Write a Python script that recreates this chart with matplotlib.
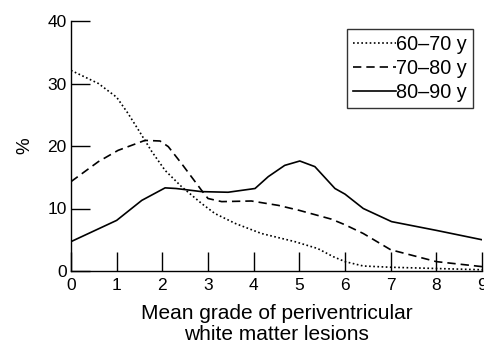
import matplotlib
matplotlib.use("Agg")
import matplotlib.pyplot as plt

plt.rcParams['font.family'] = ['Liberation Sans', 'DejaVu Sans']

# Values
x_6070 = [0, 0.6, 1.0, 1.25, 1.5, 1.77, 2.06, 2.42, 2.86, 3.15, 3.6, 4.17, 4.9, 5.4, 5.74, 6.0, 6.4, 7.0, 8.0, 9.0]
y_6070 = [32.1, 30.0, 27.8, 25.2, 22.3, 19.1, 16.1, 13.5, 10.8, 9.2, 7.6, 6.0, 4.7, 3.6, 2.3, 1.5, 0.8, 0.6, 0.4, 0.2]

x_7080 = [0, 0.6, 1.03, 1.62, 1.95, 2.13, 2.42, 2.86, 3.0, 3.3, 3.95, 4.54, 5.0, 5.7, 6.0, 6.4, 7.0, 8.0, 9.0]
y_7080 = [14.3, 17.5, 19.3, 20.9, 20.8, 19.9, 17.2, 12.9, 11.6, 11.1, 11.2, 10.5, 9.7, 8.3, 7.4, 6.0, 3.4, 1.5, 0.7]

x_8090 = [0, 1.0, 1.55, 2.06, 2.3, 2.86, 3.44, 4.03, 4.32, 4.68, 5.01, 5.34, 5.78, 6.0, 6.4, 7.02, 8.0, 9.0]
y_8090 = [4.7, 8.1, 11.3, 13.3, 13.2, 12.7, 12.6, 13.2, 15.1, 16.9, 17.6, 16.7, 13.2, 12.3, 10.0, 7.9, 6.5, 5.0]

labels = ['60\u201370 y', '70\u201380 y', '80\u201390 y']
x_ticks = list(range(0, 10))
y_ticks = [0, 10, 20, 30, 40]

fig = plt.figure(figsize=(4.85, 3.44), dpi=100)
ax = fig.add_axes([71/485, 1-271/344, (482-71)/485, (271-21)/344])

lw = 1.2
ax.plot(x_6070, y_6070, color='black', lw=lw, linestyle=(0, (1, 1.5)), label=labels[0])
ax.plot(x_7080, y_7080, color='black', lw=lw, linestyle=(0, (5, 3)), label=labels[1])
ax.plot(x_8090, y_8090, color='black', lw=lw, linestyle='-', label=labels[2])

ax.set_xlim(0, 9)
ax.set_ylim(0, 40)
ax.set_xticks(x_ticks)
ax.set_yticks(y_ticks)
ax.spines['top'].set_visible(False)
ax.spines['right'].set_visible(False)
for s in ['left', 'bottom']:
    ax.spines[s].set_linewidth(1.0)
ax.tick_params(axis='both', direction='in', length=14, width=1.0, labelsize=12.5, pad=3)
ax.tick_params(axis='x', pad=5)

ax.set_xlabel('Mean grade of periventricular\nwhite matter lesions', fontsize=15, labelpad=8, linespacing=1.15)
ax.set_ylabel('%', fontsize=13.5, labelpad=10)

leg = ax.legend(loc='upper right', frameon=True, fancybox=False, edgecolor='black', fontsize=14.3,
                handlelength=2.2, handletextpad=0.0, borderpad=0.3, labelspacing=0.25, borderaxespad=0)
leg.get_frame().set_linewidth(1.0)
leg.set_bbox_to_anchor((473/485, 1-29/344), transform=fig.transFigure)

fig.savefig('out.png', dpi=100)
